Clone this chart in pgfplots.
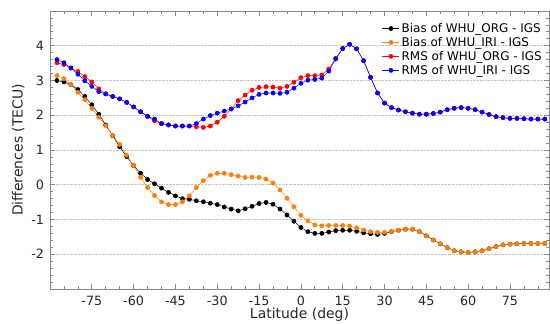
\documentclass[border=0pt]{standalone}
\usepackage{fontspec}
\setmainfont{DejaVu Sans}
\usepackage{pgfplots}
\pgfplotsset{compat=1.18}
\usepackage{pgfplotstable}
\definecolor{myorange}{RGB}{252,128,8}
\definecolor{axgray}{RGB}{135,135,135}
\definecolor{gridgray}{RGB}{195,195,195}

\pgfplotstableread{
lat borg biri rorg riri
-87.5 3.00 3.14 3.51 3.60
-85 2.96 3.05 3.46 3.51
-82.5 2.88 2.88 3.36 3.36
-80 2.74 2.66 3.26 3.18
-77.5 2.54 2.45 3.11 2.99
-75 2.30 2.20 2.96 2.83
-72.5 2.03 1.94 2.76 2.68
-70 1.72 1.70 2.62 2.61
-67.5 1.41 1.42 2.54 2.54
-65 1.09 1.16 2.47 2.47
-62.5 0.81 0.85 2.37 2.37
-60 0.55 0.55 2.24 2.24
-57.5 0.33 0.21 2.10 2.10
-55 0.15 -0.08 1.96 1.97
-52.5 0.03 -0.31 1.84 1.89
-50 -0.10 -0.49 1.76 1.76
-47.5 -0.22 -0.57 1.72 1.72
-45 -0.32 -0.57 1.69 1.69
-42.5 -0.40 -0.49 1.69 1.69
-40 -0.42 -0.32 1.69 1.69
-37.5 -0.46 -0.08 1.67 1.76
-35 -0.49 0.12 1.65 1.89
-32.5 -0.53 0.27 1.69 1.99
-30 -0.57 0.33 1.80 2.06
-27.5 -0.64 0.33 1.97 2.12
-25 -0.70 0.29 2.18 2.18
-22.5 -0.75 0.25 2.42 2.27
-20 -0.69 0.21 2.58 2.38
-17.5 -0.62 0.22 2.72 2.50
-15 -0.54 0.21 2.80 2.60
-12.5 -0.51 0.16 2.82 2.64
-10 -0.56 0.05 2.81 2.64
-7.5 -0.70 -0.15 2.78 2.63
-5 -0.87 -0.39 2.83 2.66
-2.5 -1.05 -0.63 2.95 2.78
0 -1.23 -0.88 3.08 2.92
2.5 -1.35 -1.04 3.14 3.01
5 -1.40 -1.16 3.14 3.03
7.5 -1.40 -1.18 3.16 3.07
10 -1.36 -1.17 3.33 3.27
12.5 -1.32 -1.17 3.64 3.62
15 -1.31 -1.17 3.92 3.92
17.5 -1.31 -1.19 4.04 4.04
20 -1.34 -1.24 3.91 3.91
22.5 -1.38 -1.30 3.57 3.57
25 -1.41 -1.35 3.09 3.09
27.5 -1.43 -1.37 2.64 2.64
30 -1.40 -1.37 2.35 2.35
32.5 -1.35 -1.35 2.22 2.22
35 -1.31 -1.31 2.15 2.15
37.5 -1.28 -1.28 2.10 2.10
40 -1.28 -1.28 2.06 2.06
42.5 -1.35 -1.35 2.03 2.03
45 -1.47 -1.47 2.03 2.03
47.5 -1.59 -1.59 2.05 2.05
50 -1.70 -1.70 2.09 2.09
52.5 -1.81 -1.81 2.16 2.16
55 -1.90 -1.90 2.20 2.20
57.5 -1.93 -1.93 2.22 2.22
60 -1.95 -1.95 2.20 2.20
62.5 -1.93 -1.93 2.16 2.16
65 -1.90 -1.90 2.09 2.09
67.5 -1.84 -1.84 2.02 2.02
70 -1.78 -1.78 1.96 1.96
72.5 -1.73 -1.73 1.93 1.93
75 -1.71 -1.71 1.91 1.91
77.5 -1.70 -1.70 1.91 1.91
80 -1.69 -1.69 1.90 1.90
82.5 -1.69 -1.69 1.89 1.89
85 -1.69 -1.69 1.89 1.89
87.5 -1.69 -1.69 1.89 1.89
}\data

\begin{document}
\begin{tikzpicture}
\path[use as bounding box] (-50bp,-35bp) rectangle (500bp,289bp);
\begin{axis}[
  at={(0,0)}, anchor=south west,
  scale only axis, width=499bp, height=278bp,
  xmin=-90, xmax=89, ymin=-3, ymax=5,
  xtick={-75,-60,...,75},
  minor xtick={-85,-80,...,85},
  ytick={-2,-1,0,1,2,3,4},
  minor ytick={-2.8,-2.6,-2.4,-2.2,-1.8,-1.6,-1.4,-1.2,-0.8,-0.6,-0.4,-0.2,0.2,0.4,0.6,0.8,1.2,1.4,1.6,1.8,2.2,2.4,2.6,2.8,3.2,3.4,3.6,3.8,4.2,4.4,4.6,4.8},
  tick align=inside,
  major tick length=5bp, minor tick length=3bp,
  axis line style={axgray, line width=0.9pt},
  every tick/.style={axgray, line width=0.7pt},
  ymajorgrids, grid style={gridgray, densely dotted, line width=0.6pt},
  tick label style={font=\fontsize{12.8}{14}\selectfont, text=black!85},
  xticklabel style={yshift=-4bp},
  yticklabel style={xshift=-2.4bp},
  /pgf/number format/assume math mode=true,
  xlabel={Latitude (deg)}, ylabel={Differences (TECU)},
  label style={font=\fontsize{14}{16}\selectfont, text=black!85},
  xlabel style={yshift=5.5bp},
  legend style={at={(1,1)}, anchor=north east, xshift=-2bp, yshift=-8bp,
    draw=none, fill=none, font=\fontsize{12}{14}\selectfont, row sep=-0.6bp},
  legend cell align=left,
]
\addplot[black, line width=0.5pt, mark=*, mark size=2.1bp] table[x=lat,y=borg]{\data};
\addlegendentry{Bias of WHU\_ORG - IGS}
\addplot[myorange, line width=0.5pt, mark=*, mark size=2.1bp] table[x=lat,y=biri]{\data};
\addlegendentry{Bias of WHU\_IRI - IGS}
\addplot[red, line width=0.5pt, mark=*, mark size=2.1bp] table[x=lat,y=rorg]{\data};
\addlegendentry{RMS of WHU\_ORG - IGS}
\addplot[blue, line width=0.5pt, mark=*, mark size=2.1bp] table[x=lat,y=riri]{\data};
\addlegendentry{RMS of WHU\_IRI - IGS}
\end{axis}
\end{tikzpicture}
\end{document}
